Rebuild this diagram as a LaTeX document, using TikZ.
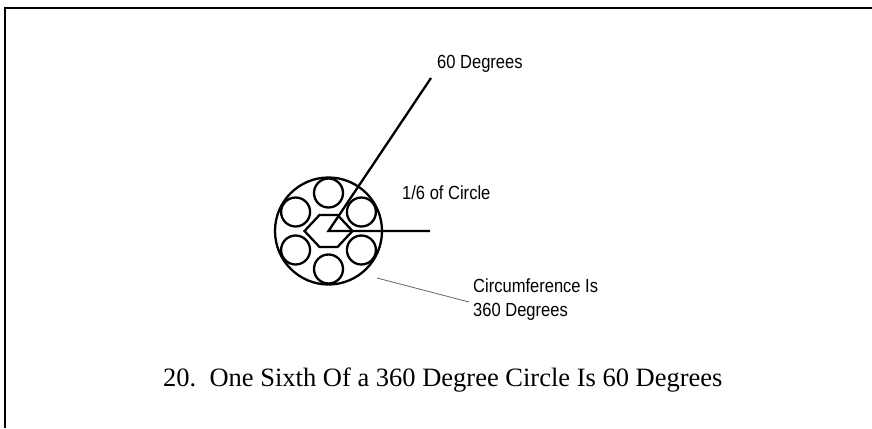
\documentclass[tikz,border=0pt]{standalone}
\usepackage{fontspec}
\usetikzlibrary{calc}
\setmainfont{Liberation Serif}
\newfontfamily\lblfont[FakeStretch=0.87]{Liberation Sans}
\begin{document}
\begin{tikzpicture}[x=1pt,y=-1pt,
  shape line/.style={line width=2.3pt},
  lbl/.style={font=\lblfont\fontsize{19}{22}\selectfont, inner sep=0pt, anchor=base west},
  captiontext/.style={font=\fontsize{26.5}{30}\selectfont, inner sep=0pt, anchor=base west},
  pointer/.style={draw=black!60, line width=0.8pt}]
\useasboundingbox (0,0) rectangle (872,428);
% frame
\draw[line width=2.2pt] (5,428) -- (5,8) -- (872,8);
% big circle
\coordinate (c) at (328.5,231);
\node[draw, circle, line width=2.3pt, minimum size=107pt, inner sep=0pt] (big) at (c) {};
% small circles
\foreach \a [count=\i] in {90,30,-30,-90,-150,150} {
  \node[draw, circle, line width=2.3pt, minimum size=29pt, inner sep=0pt] (s\i) at ($(c)+(\a:38)$) {};
}
% hexagon
\draw[shape line, line join=miter] (304.5,231) -- (319.5,215) -- (337.5,215) -- (352.5,231) -- (337.5,247) -- (319.5,247) -- cycle;
% angle lines
\coordinate (top) at (431,78);
\coordinate (right) at (430,231);
\draw[shape line] (top) -- (c) -- (right);
% labels
\node[lbl] (deg60) at (437,68.3) {60 Degrees};
\node[lbl] (sixth) at (402,199.5) {1/6 of Circle};
\node[lbl] (circ1) at (473,292) {Circumference Is};
\node[lbl] (circ2) at (473,316) {360 Degrees};
\coordinate (p1) at (377,278);
\coordinate (p2) at (469,302);
\draw[pointer] (p1) -- (p2);
% caption
\node[captiontext] (caption) at (163,386) {20.\ \ One Sixth Of a 360 Degree Circle Is 60 Degrees};
\end{tikzpicture}
\end{document}
